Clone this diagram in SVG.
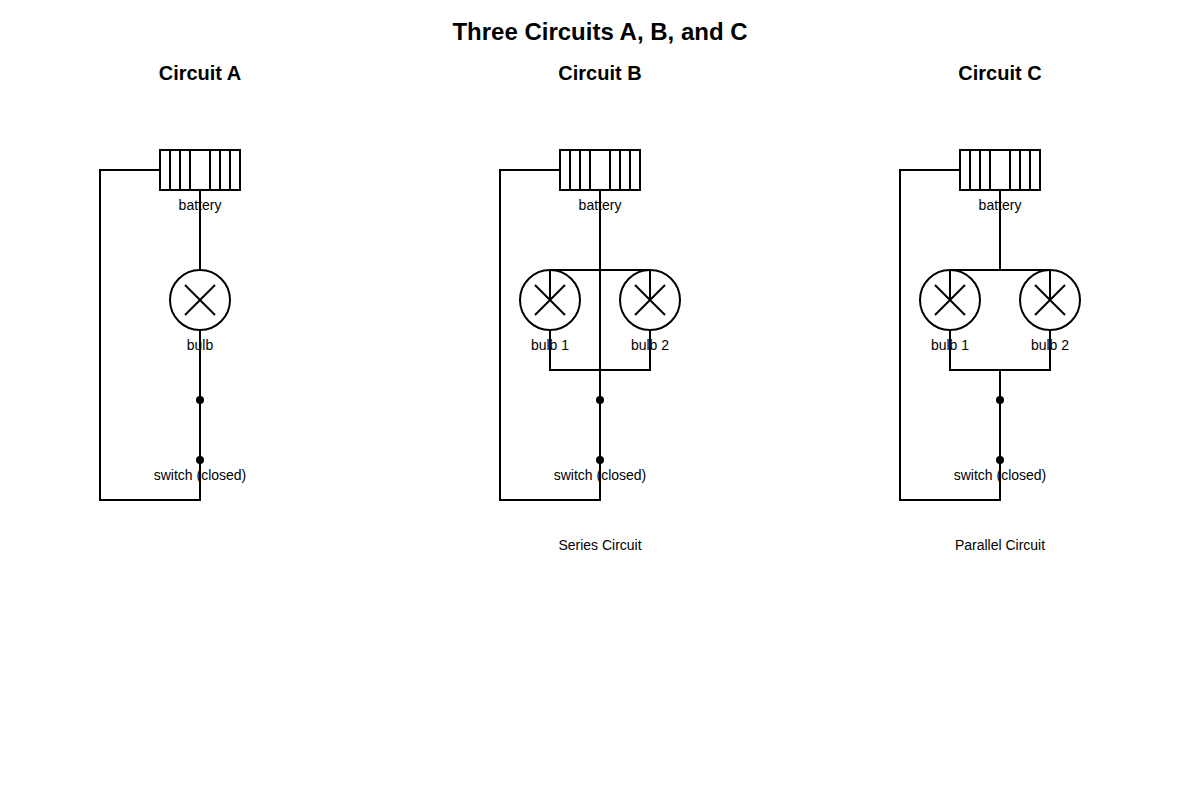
<svg xmlns="http://www.w3.org/2000/svg" width="1200" height="800" viewBox="0 0 1200 800">
<style>
.w{fill:none;stroke:#000;stroke-width:2}
.t{font-family:"Liberation Sans",Arial,sans-serif;font-size:14px;text-anchor:middle;fill:#000}
.h{font-family:"Liberation Sans",Arial,sans-serif;font-weight:bold;text-anchor:middle;fill:#000}
</style>
<defs>
<g id="bat"><rect class="w" x="-40" y="-20" width="80" height="40"/><path class="w" d="M-30-20v40M-20-20v40M-10-20v40M10-20v40M20-20v40M30-20v40"/></g>
<g id="bulb"><circle class="w" r="30" fill="#fff"/><path class="w" d="M-15-15L15 15M15-15L-15 15"/></g>
</defs>
<rect width="1200" height="800" fill="#fff"/>
<text class="h" x="600" y="40" font-size="24">Three Circuits A, B, and C</text>
<text class="h" x="200" y="80" font-size="20">Circuit A</text>
<text class="h" x="600" y="80" font-size="20">Circuit B</text>
<text class="h" x="1000" y="80" font-size="20">Circuit C</text>
<g id="connectors">
<path class="w" d="M160 170H100V500H200V330M200 190V270"/>
<path class="w" d="M560 170H500V500H600V190M550 270H650M550 270V300M650 270V300M550 330V370H650V330"/>
<path class="w" d="M960 170H900V500H1000V370M1000 190V270M950 270H1050M950 270V300M1050 270V300M950 330V370H1050V330"/>
</g>
<g id="circuitA">
<use href="#bat" x="200" y="170"/><use href="#bulb" x="200" y="300"/>
<circle cx="200" cy="400" r="4"/><circle cx="200" cy="460" r="4"/>
<text class="t" x="200" y="210">battery</text><text class="t" x="200" y="350">bulb</text><text class="t" x="200" y="480">switch (closed)</text>
</g>
<g id="circuitB">
<use href="#bat" x="600" y="170"/>
<circle class="w" cx="550" cy="300" r="30"/><path class="w" d="M535 285L565 315M565 285L535 315"/>
<circle class="w" cx="650" cy="300" r="30"/><path class="w" d="M635 285L665 315M665 285L635 315"/>
<circle cx="600" cy="400" r="4"/><circle cx="600" cy="460" r="4"/>
<text class="t" x="600" y="210">battery</text><text class="t" x="550" y="350">bulb 1</text><text class="t" x="650" y="350">bulb 2</text><text class="t" x="600" y="480">switch (closed)</text>
<text class="t" x="600" y="550" font-size="16">Series Circuit</text>
</g>
<g id="circuitC">
<use href="#bat" x="1000" y="170"/>
<circle class="w" cx="950" cy="300" r="30"/><path class="w" d="M935 285L965 315M965 285L935 315"/>
<circle class="w" cx="1050" cy="300" r="30"/><path class="w" d="M1035 285L1065 315M1065 285L1035 315"/>
<circle cx="1000" cy="400" r="4"/><circle cx="1000" cy="460" r="4"/>
<text class="t" x="1000" y="210">battery</text><text class="t" x="950" y="350">bulb 1</text><text class="t" x="1050" y="350">bulb 2</text><text class="t" x="1000" y="480">switch (closed)</text>
<text class="t" x="1000" y="550" font-size="16">Parallel Circuit</text>
</g>
</svg>
